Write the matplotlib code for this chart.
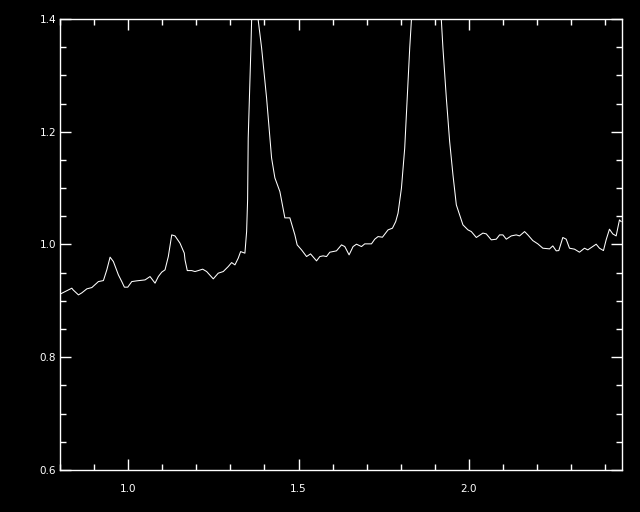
import matplotlib
matplotlib.use("Agg")
import matplotlib.pyplot as plt
from matplotlib.ticker import MultipleLocator

# spectrum (peaks go above the plot range and get clipped)
wave = [0.800, 0.8147, 0.8343, 0.838, 0.8537, 0.8636, 0.8783, 0.893, 0.9123, 0.927,
        0.937, 0.9466, 0.9563, 0.971, 0.9809, 0.9886, 0.9985, 1.0103, 1.0249, 1.0493,
        1.0639, 1.0786, 1.0883, 1.0982, 1.1079, 1.1176, 1.1276, 1.1372, 1.1519, 1.1645,
        1.1666, 1.1733, 1.1862, 1.1959, 1.2056, 1.2185, 1.2302, 1.2496, 1.2642, 1.2789,
        1.2935, 1.3035, 1.3132, 1.3229, 1.3299, 1.3425, 1.3475, 1.3504, 1.3522, 1.3572,
        1.3601, 1.3622, 1.371, 1.3815, 1.3915, 1.4061, 1.4208, 1.4305, 1.4452, 1.4598,
        1.4745, 1.4892, 1.4959, 1.5088, 1.5235, 1.5352, 1.5528, 1.5625, 1.5721, 1.5821,
        1.5918, 1.6114, 1.6261, 1.6358, 1.6484, 1.6601, 1.6701, 1.6848, 1.6944, 1.7141,
        1.7238, 1.7334, 1.7463, 1.7628, 1.7757, 1.7853, 1.7921, 1.8021, 1.8117, 1.8214,
        1.8264, 1.8314, 1.85, 1.875, 1.90, 1.9193, 1.924, 1.934, 1.9437, 1.9534,
        1.9633, 1.973, 1.9827, 1.9974, 2.0073, 2.022, 2.0413, 2.0512, 2.066, 2.0806,
        2.0903, 2.1, 2.11, 2.1246, 2.1393, 2.149, 2.1637, 2.1733, 2.1879, 2.2026,
        2.2173, 2.237, 2.2466, 2.2566, 2.2642, 2.276, 2.2859, 2.2956, 2.3103, 2.3249,
        2.3396, 2.3493, 2.3639, 2.3739, 2.3836, 2.3953, 2.4032, 2.4129, 2.4226, 2.4326,
        2.4423, 2.4472]
flux = [0.912, 0.9165, 0.9225, 0.9195, 0.9106, 0.9142, 0.9213, 0.9236, 0.9342, 0.936,
        0.955, 0.9775, 0.9697, 0.9461, 0.9342, 0.9243, 0.9243, 0.9342, 0.9355, 0.9372,
        0.9431, 0.9314, 0.9431, 0.9509, 0.955, 0.9786, 1.017, 1.0152, 1.0023, 0.9846,
        0.9727, 0.9537, 0.9537, 0.952, 0.9537, 0.9562, 0.952, 0.939, 0.9491, 0.952,
        0.9608, 0.9679, 0.9638, 0.9757, 0.9874, 0.9846, 1.0229, 1.0791, 1.189, 1.2888,
        1.3486, 1.398, 1.60, 1.398, 1.3486, 1.26, 1.1535, 1.1181, 1.0938, 1.0472,
        1.0472, 1.017, 0.9993, 0.9904, 0.9786, 0.9833, 0.9709, 0.9786, 0.9798, 0.9786,
        0.9863, 0.9887, 0.9993, 0.9963, 0.9816, 0.9963, 1.0005, 0.9963, 1.0011, 1.0011,
        1.0094, 1.014, 1.0129, 1.0259, 1.0289, 1.0406, 1.0555, 1.0998, 1.1707, 1.2888,
        1.348, 1.398, 1.75, 1.85, 1.70, 1.398, 1.348, 1.2594, 1.1824, 1.1234,
        1.0702, 1.0525, 1.0348, 1.0259, 1.0229, 1.0124, 1.0202, 1.0188, 1.0082, 1.0094,
        1.017, 1.017, 1.0094, 1.0152, 1.017, 1.0152, 1.0229, 1.017, 1.0069, 1.0011,
        0.9934, 0.9922, 0.9975, 0.9887, 0.9892, 1.0124, 1.0094, 0.9934, 0.9917, 0.9863,
        0.9934, 0.9904, 0.9963, 1.0005, 0.9934, 0.9892, 1.0082, 1.0271, 1.0188, 1.0152,
        1.0436, 1.0406]

fig = plt.figure(figsize=(6.4, 5.12), dpi=100, facecolor="black")
ax = fig.add_axes([0.094, 0.082, 0.878, 0.881], facecolor="black")

ax.plot(wave, flux, color="white", linewidth=0.75)

ax.set_xlim(0.8, 2.45)
ax.set_ylim(0.6, 1.4)
ax.xaxis.set_major_locator(MultipleLocator(0.5))
ax.xaxis.set_minor_locator(MultipleLocator(0.1))
ax.yaxis.set_major_locator(MultipleLocator(0.2))
ax.yaxis.set_minor_locator(MultipleLocator(0.05))
ax.xaxis.set_major_formatter(plt.FormatStrFormatter("%.1f"))
ax.yaxis.set_major_formatter(plt.FormatStrFormatter("%.1f"))

for s in ax.spines.values():
    s.set_color("white")
    s.set_linewidth(1.0)

ax.tick_params(which="both", direction="in", colors="white",
               top=True, right=True, width=1.0, labelsize=7.5)
ax.tick_params(which="major", length=8)
ax.tick_params(which="minor", length=4.5)
ax.tick_params(axis="x", which="major", pad=10)
ax.tick_params(axis="y", which="major", pad=3)

fig.savefig("out.png", dpi=100, facecolor="black")
